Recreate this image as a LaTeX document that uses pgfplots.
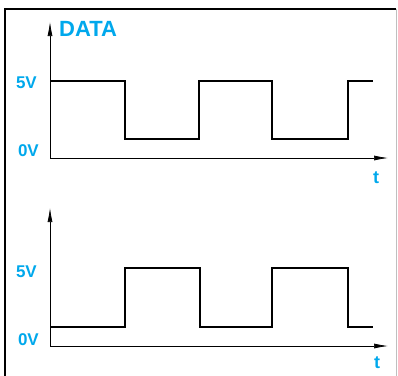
\documentclass[border=0pt]{standalone}
\usepackage{fontspec}
\setmainfont{Liberation Sans}
\usepackage{pgfplots}
\pgfplotsset{compat=1.18}
\usetikzlibrary{arrows.meta}
\definecolor{lblue}{RGB}{0,168,236}

\tikzset{axarrow/.style={line width=0.7pt, -{Latex[length=14pt,width=5pt]}}}
\pgfplotsset{sig/.style={
    width=338pt, scale only axis,
    xmin=0, xmax=338, ymin=0,
    axis lines=none,
    xtick=\empty, ytick=\empty, clip=false,
    anchor=south west}}

\begin{document}
\begin{tikzpicture}[x=1pt,y=1pt]
\useasboundingbox (0,0) rectangle (398,-375);
\draw[line width=2pt] (5,-376) -- (5,-9) -- (396,-9);
\draw[black!25, line width=0.6pt] (396,-9) -- (396,-376);

% top: DATA
\begin{axis}[sig, at={(50pt,-158pt)}, height=136pt, ymax=136]
\draw[axarrow] (axis cs:0,0) -- (axis cs:338,0);
\draw[axarrow] (axis cs:0,0) -- (axis cs:0,136);
\addplot[const plot, black, line width=1.6pt] coordinates {
  (0,77) (75,19) (149,77) (222,19) (298,77) (323,77)};
\end{axis}

% bottom
\begin{axis}[sig, at={(50pt,-346pt)}, height=138pt, ymax=138]
\draw[axarrow] (axis cs:0,0) -- (axis cs:338,0);
\draw[axarrow] (axis cs:0,0) -- (axis cs:0,138);
\addplot[const plot, black, line width=1.6pt] coordinates {
  (0,19) (75,78) (150,19) (222,78) (298,19) (323,19)};
\end{axis}

\begin{scope}[every node/.style={inner sep=0pt, text=lblue, font=\bfseries\fontsize{17}{17}\selectfont}]
\node[anchor=base west, font=\bfseries\fontsize{22}{22}\selectfont] at (59,-36) {DATA};
\node[anchor=base east] at (37,-88) {5V};
\node[anchor=base east] at (39,-156) {0V};
\node[anchor=base east] at (37,-277) {5V};
\node[anchor=base east] at (39,-345) {0V};
\node[anchor=base, font=\bfseries\fontsize{18}{18}\selectfont] at (376,-183) {t};
\node[anchor=base, font=\bfseries\fontsize{18}{18}\selectfont] at (377,-368) {t};
\end{scope}
\end{tikzpicture}
\end{document}
